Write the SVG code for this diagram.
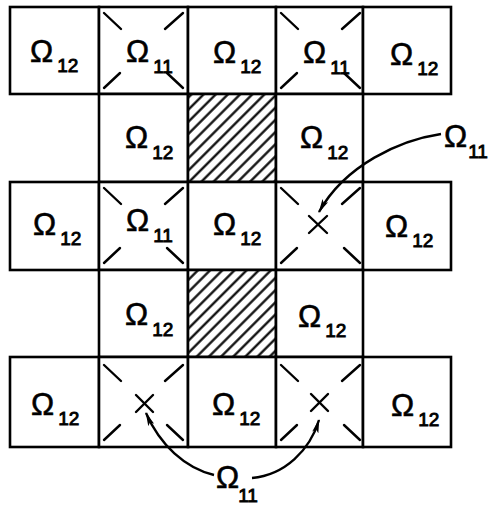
<svg xmlns="http://www.w3.org/2000/svg" width="492" height="506" viewBox="0 0 492 506">
<style>
.cell{fill:#fff;stroke:#000;stroke-width:2.6}
.hcell{fill:url(#hatch);stroke:#000;stroke-width:2.6}
.d{stroke:#000;stroke-width:2.4;stroke-linecap:round}
.t{font-family:"Liberation Sans",Arial,sans-serif;font-size:31px;fill:#000;stroke:#000;stroke-width:0.6}
.s{font-size:19px;stroke-width:0.9}
.arr{fill:none;stroke:#000;stroke-width:2.4;marker-end:url(#ah)}
</style>
<defs>
<pattern id="hatch" width="8.6" height="8.6" patternUnits="userSpaceOnUse" patternTransform="rotate(-45)">
<rect width="8.6" height="8.6" fill="#fff"/>
<line x1="0" y1="4.3" x2="8.6" y2="4.3" stroke="#000" stroke-width="2.2"/>
</pattern>
<marker id="ah" viewBox="0 0 14 8" refX="13" refY="4" markerWidth="14" markerHeight="8" markerUnits="userSpaceOnUse" orient="auto">
<path d="M0,0.8 L14,4 L0,7.2 L3,4 Z" fill="#000"/>
</marker>
<g id="xd">
<line class="d" x1="5" y1="6" x2="22" y2="22"/>
<line class="d" x1="84" y1="6" x2="66" y2="22"/>
<line class="d" x1="5" y1="81" x2="21" y2="66"/>
<line class="d" x1="84" y1="81" x2="68" y2="66"/>
</g>
</defs>
<rect width="492" height="506" fill="#fff"/>

<!-- row 0 -->
<g id="r0c0"><rect class="cell" x="10" y="7" width="89" height="87"/><text class="t" x="30" y="62">Ω<tspan class="s" dx="4" dy="10">12</tspan></text></g>
<g id="r0c1"><rect class="cell" x="99" y="7" width="89" height="87"/><use href="#xd" x="99" y="7"/><text class="t" x="126" y="62">Ω<tspan class="s" dx="4" dy="11">11</tspan></text></g>
<g id="r0c2"><rect class="cell" x="188" y="7" width="88" height="87"/><text class="t" x="213" y="63">Ω<tspan class="s" dx="4" dy="10">12</tspan></text></g>
<g id="r0c3"><rect class="cell" x="276" y="7" width="87" height="87"/><use href="#xd" x="276" y="7"/><text class="t" x="303" y="63">Ω<tspan class="s" dx="4" dy="11">11</tspan></text></g>
<g id="r0c4"><rect class="cell" x="363" y="7" width="88" height="87"/><text class="t" x="390" y="65">Ω<tspan class="s" dx="4" dy="10">12</tspan></text></g>

<!-- row 1 -->
<g id="r1c1"><rect class="cell" x="99" y="94" width="89" height="88"/><text class="t" x="125" y="148">Ω<tspan class="s" dx="4" dy="11">12</tspan></text></g>
<g id="r1c2"><rect class="hcell" x="188" y="94" width="88" height="88"/></g>
<g id="r1c3"><rect class="cell" x="276" y="94" width="87" height="88"/><text class="t" x="300" y="148">Ω<tspan class="s" dx="4" dy="11">12</tspan></text></g>

<!-- row 2 -->
<g id="r2c0"><rect class="cell" x="10" y="182" width="89" height="88"/><text class="t" x="33" y="235">Ω<tspan class="s" dx="4" dy="10">12</tspan></text></g>
<g id="r2c1"><rect class="cell" x="99" y="182" width="89" height="88"/><use href="#xd" x="99" y="182"/><text class="t" x="126" y="231">Ω<tspan class="s" dx="4" dy="11">11</tspan></text></g>
<g id="r2c2"><rect class="cell" x="188" y="182" width="88" height="88"/><text class="t" x="213" y="235">Ω<tspan class="s" dx="4" dy="10">12</tspan></text></g>
<g id="r2c3"><rect class="cell" x="276" y="182" width="87" height="88"/><use href="#xd" x="276" y="182"/><line class="d" x1="309" y1="216" x2="327" y2="233"/><line class="d" x1="327" y1="216" x2="309" y2="233"/></g>
<g id="r2c4"><rect class="cell" x="363" y="182" width="88" height="88"/><text class="t" x="385" y="237">Ω<tspan class="s" dx="4" dy="10">12</tspan></text></g>

<!-- row 3 -->
<g id="r3c1"><rect class="cell" x="99" y="270" width="89" height="87"/><text class="t" x="125" y="325">Ω<tspan class="s" dx="4" dy="11">12</tspan></text></g>
<g id="r3c2"><rect class="hcell" x="188" y="270" width="88" height="87"/></g>
<g id="r3c3"><rect class="cell" x="276" y="270" width="87" height="87"/><text class="t" x="298" y="327">Ω<tspan class="s" dx="4" dy="10">12</tspan></text></g>

<!-- row 4 -->
<g id="r4c0"><rect class="cell" x="10" y="357" width="89" height="90"/><text class="t" x="31" y="415">Ω<tspan class="s" dx="4" dy="10">12</tspan></text></g>
<g id="r4c1"><rect class="cell" x="99" y="357" width="89" height="90"/><use href="#xd" x="99" y="359"/><line class="d" x1="136" y1="395" x2="153" y2="412"/><line class="d" x1="153" y1="395" x2="136" y2="412"/></g>
<g id="r4c2"><rect class="cell" x="188" y="357" width="88" height="90"/><text class="t" x="212" y="415">Ω<tspan class="s" dx="4" dy="10">12</tspan></text></g>
<g id="r4c3"><rect class="cell" x="276" y="357" width="87" height="90"/><use href="#xd" x="276" y="359"/><line class="d" x1="311" y1="394" x2="328" y2="411"/><line class="d" x1="328" y1="394" x2="311" y2="411"/></g>
<g id="r4c4"><rect class="cell" x="363" y="357" width="88" height="90"/><text class="t" x="391" y="416">Ω<tspan class="s" dx="4" dy="10">12</tspan></text></g>

<!-- labels -->
<g id="lbl-right"><text class="t" x="444" y="147">Ω<tspan class="s" dx="1" dy="11">11</tspan></text></g>
<g id="lbl-bottom"><text class="t" x="216" y="488">Ω<tspan class="s" dx="-1" dy="14">11</tspan></text></g>

<g id="connectors">
<path class="arr" d="M441 134 C400 140 345 165 319 212"/>
<path class="arr" d="M214 475 C185 468 160 445 146 413"/>
<path class="arr" d="M252 478 C285 475 310 450 319 420"/>
</g>
</svg>
